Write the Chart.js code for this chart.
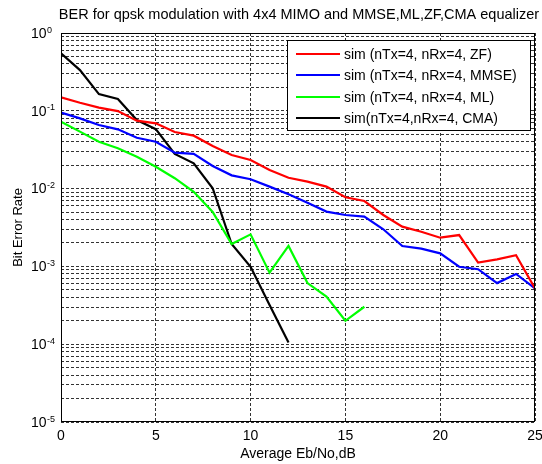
<!DOCTYPE html>
<html>
<head>
<meta charset="utf-8">
<script src="https://cdn.jsdelivr.net/npm/chart.js@4/dist/chart.umd.min.js"></script>
<style>
html,body{margin:0;padding:0;background:#fff;}
canvas{display:block;}
</style>
</head>
<body>
<canvas id="c" width="542" height="464"></canvas>
<script>
const titleText = 'BER for qpsk modulation with 4x4 MIMO and MMSE,ML,ZF,CMA equalizer';
const xLabel = 'Average Eb/No,dB';
const yLabel = 'Bit Error Rate';
const seriesNames = ['sim (nTx=4, nRx=4, ZF)', 'sim (nTx=4, nRx=4, MMSE)', 'sim (nTx=4, nRx=4, ML)', 'sim(nTx=4,nRx=4, CMA)'];
const seriesColors = ['#ff0000', '#0000ff', '#00ff00', '#000000'];
const ebNo = [0,1,2,3,4,5,6,7,8,9,10,11,12,13,14,15,16,17,18,19,20,21,22,23,24,25];
const berZF = [0.149,0.127,0.110,0.099,0.0746,0.069,0.0534,0.0479,0.0353,0.027,0.0233,0.0173,0.0138,0.0123,0.0106,0.00773,0.00693,0.00458,0.00324,0.00279,0.00234,0.00253,0.00112,0.00123,0.00139,0.00052];
const berMMSE = [0.0946,0.080,0.0657,0.0578,0.0451,0.040,0.029,0.0279,0.0195,0.0148,0.0132,0.0106,0.00845,0.0066,0.00506,0.00458,0.00436,0.0030,0.00183,0.00169,0.00147,0.00099,0.00092,0.00061,0.0008,0.00052];
const berML = [0.0724,0.054,0.040,0.033,0.0257,0.0191,0.0136,0.0091,0.0050,0.00194,0.00258,0.00083,0.00183,0.00061,0.00041,0.00020,0.000303];
const berCMA = [0.548,0.334,0.164,0.142,0.076,0.058,0.0279,0.0211,0.0101,0.00194,0.00099,0.000319,0.000105];
const xTicks = [0,5,10,15,20,25];
const yDecades = [-5,-4,-3,-2,-1,0];

const FONT = "'Liberation Sans', Arial, Helvetica, sans-serif";
const allSeries = [berZF, berMMSE, berML, berCMA];

function toPoints(ys){ return ys.map((v,i)=>({x: ebNo[i], y: v})); }

const decoPlugin = {
  id: 'deco',
  afterDraw(chart){
    const ctx = chart.ctx;
    const a = chart.chartArea;
    const ys = chart.scales.y;
    ctx.save();
    // box
    ctx.strokeStyle = '#000';
    ctx.lineWidth = 1;
    ctx.setLineDash([]);
    ctx.strokeRect(Math.round(a.left)+0.5, Math.round(a.top)+0.5, Math.round(a.right-a.left)-1, Math.round(a.bottom-a.top)-1);
    // y tick labels
    ctx.fillStyle = '#000';
    yDecades.forEach(d => {
      const py = ys.getPixelForValue(Math.pow(10, d));
      const exp = String(d);
      ctx.font = '9px ' + FONT;
      ctx.textAlign = 'left';
      ctx.textBaseline = 'alphabetic';
      ctx.fillText(exp, 47, py - 0.5);
      ctx.font = '14px ' + FONT;
      ctx.textAlign = 'right';
      ctx.textBaseline = 'middle';
      ctx.fillText('10', 46.5, py + 1);
    });
    // axis titles
    ctx.textAlign = 'center';
    ctx.textBaseline = 'middle';
    ctx.font = '14px ' + FONT;
    ctx.fillText(xLabel, (a.left + a.right)/2, 454);
    ctx.save();
    ctx.font = '13px ' + FONT;
    ctx.translate(18, (a.top + a.bottom)/2);
    ctx.rotate(-Math.PI/2);
    ctx.fillText(yLabel, 0, 0);
    ctx.restore();
    // title
    ctx.font = '14.5px ' + FONT;
    ctx.fillText(titleText, (a.left + a.right)/2 + 1, 15);
    // legend
    const lx = 287, ly = 40, lw = 243, lh = 90;
    ctx.fillStyle = '#fff';
    ctx.fillRect(lx, ly, lw, lh);
    ctx.strokeStyle = '#000';
    ctx.lineWidth = 1;
    ctx.strokeRect(lx + 0.5, ly + 0.5, lw, lh);
    const rows = [54, 75, 97, 118];
    chart.data.datasets.forEach((ds, i) => {
      ctx.strokeStyle = ds.borderColor;
      ctx.lineWidth = 2;
      ctx.beginPath();
      ctx.moveTo(296, rows[i]);
      ctx.lineTo(340, rows[i]);
      ctx.stroke();
      ctx.fillStyle = '#000';
      ctx.font = '14px ' + FONT;
      ctx.textAlign = 'left';
      ctx.textBaseline = 'middle';
      ctx.fillText(ds.label, 344, rows[i] + 1);
    });
    ctx.restore();
  }
};

new Chart(document.getElementById('c'), {
  type: 'line',
  data: {
    datasets: allSeries.map((s, i) => ({
      label: seriesNames[i],
      data: toPoints(s),
      borderColor: seriesColors[i],
      backgroundColor: seriesColors[i],
      borderWidth: 2.2,
      pointRadius: 0,
      tension: 0,
      fill: false
    }))
  },
  options: {
    responsive: false,
    animation: false,
    devicePixelRatio: 1,
    layout: { padding: { top: 33, right: 0, left: 0, bottom: 0 } },
    plugins: { legend: { display: false }, title: { display: false }, tooltip: { enabled: false } },
    scales: {
      x: {
        type: 'linear',
        min: 0, max: 25,
        afterBuildTicks(scale){ scale.ticks = xTicks.map(v => ({value: v})); },
        afterFit(scale){ scale.height = 42; scale.paddingRight = 7; },
        ticks: { color: '#000', font: { family: FONT, size: 14 }, padding: 6, maxRotation: 0 },
        grid: { color: 'rgba(0,0,0,0.8)', lineWidth: 1, drawTicks: false },
        border: { display: false, dash: [3, 2] }
      },
      y: {
        type: 'logarithmic',
        min: 1e-5, max: 1,
        afterBuildTicks(scale){
          const t = [];
          for (let d = -5; d <= 0; d++) {
            for (let m = 1; m <= 9; m++) {
              const v = m * Math.pow(10, d);
              if (v <= 1.0000001) t.push({value: v});
            }
          }
          scale.ticks = t;
        },
        afterFit(scale){ scale.width = 61; },
        ticks: { display: false },
        grid: { color: 'rgba(0,0,0,0.8)', lineWidth: 1, drawTicks: false },
        border: { display: false, dash: [3, 2] }
      }
    }
  },
  plugins: [decoPlugin]
});
</script>
</body>
</html>
